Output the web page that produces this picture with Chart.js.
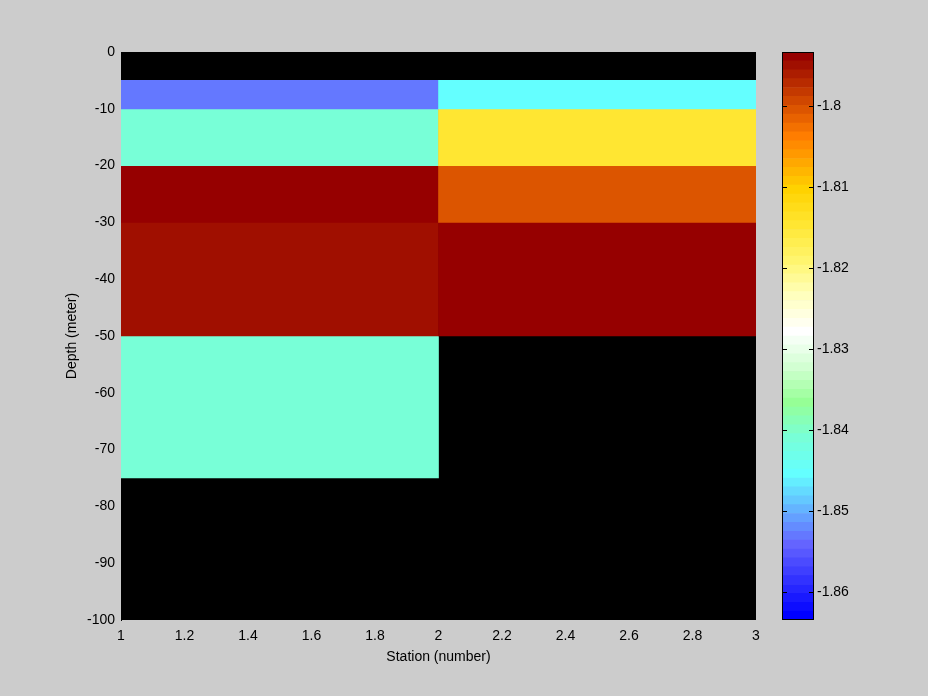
<!DOCTYPE html>
<html lang="en">
<head>
    <meta charset="UTF-8">
    <title>Depth section</title>
    <script src="https://cdn.jsdelivr.net/npm/chart.js"></script>
    <style>
        html, body {
            margin: 0;
            padding: 0;
            background-color: #cccccc;
            overflow: hidden;
        }
        #mainWrap {
            position: absolute;
            left: 0;
            top: 0;
        }
        #barWrap {
            position: absolute;
            left: 770px;
            top: 0;
        }
    </style>
</head>
<body>
    <div id="mainWrap"><canvas id="mainCanvas" width="780" height="696"></canvas></div>
    <div id="barWrap"><canvas id="barCanvas" width="158" height="696"></canvas></div>

    <script>
        // Station cells (pcolor style: 3 stations -> 2 columns of cells)
        const stationCells = ['1-2', '2-3'];
        // Depth layers (meter), top and bottom of each cell row
        const layerTop = [-5, -10, -20, -30, -50];
        const layerBottom = [-10, -20, -30, -50, -75];
        // Values per layer for each station column (null = no data, shows black)
        const station1Values = [-1.8531, -1.8408, -1.7933, -1.7949, -1.8415];
        const station2Values = [-1.8454, -1.8147, -1.8004, -1.7933, null];

        // Colour limits and colorbar ticks
        const colorMin = -1.8635;
        const colorMax = -1.7933;
        const colorTicks = [-1.86, -1.85, -1.84, -1.83, -1.82, -1.81, -1.80];

        // Colormap anchor points (index out of 64, rgb)
        const cmapSize = 64;
        const cmapAnchors = [
            [0, [0, 0, 255]],
            [8, [100, 100, 255]],
            [10, [100, 140, 255]],
            [13, [100, 200, 255]],
            [16, [100, 255, 255]],
            [20, [120, 255, 215]],
            [24, [150, 255, 150]],
            [28, [210, 255, 210]],
            [32, [255, 255, 255]],
            [36, [255, 255, 190]],
            [40, [255, 245, 110]],
            [44, [255, 230, 50]],
            [48, [255, 210, 0]],
            [54, [255, 125, 0]],
            [57, [220, 85, 0]],
            [62, [160, 15, 0]],
            [63, [150, 0, 0]]
        ];

        const tickFont = { family: 'Liberation Sans', size: 14 };

        // Build the 64 colour table from the anchors
        function buildColormap() {
            const table = [];
            for (let i = 0; i < cmapSize; i++) {
                let k = 0;
                while (k < cmapAnchors.length - 2 && cmapAnchors[k + 1][0] < i) k++;
                const [i0, c0] = cmapAnchors[k];
                const [i1, c1] = cmapAnchors[k + 1];
                const t = i1 === i0 ? 0 : Math.min(1, Math.max(0, (i - i0) / (i1 - i0)));
                const c = c0.map((v, j) => Math.round(v + (c1[j] - v) * t));
                table.push(`rgb(${c[0]}, ${c[1]}, ${c[2]})`);
            }
            return table;
        }
        const colormap = buildColormap();

        function colorFor(value) {
            if (value === null) return 'rgba(0,0,0,0)';
            let idx = Math.floor((value - colorMin) / (colorMax - colorMin) * cmapSize);
            idx = Math.max(0, Math.min(cmapSize - 1, idx));
            return colormap[idx];
        }

        // One dataset per depth layer, floating bars spanning the layer
        const layerDatasets = layerTop.map((top, i) => {
            const vals = [station1Values[i], station2Values[i]];
            return {
                data: vals.map(v => v === null ? null : [layerBottom[i], top]),
                backgroundColor: vals.map(colorFor),
                borderWidth: 0,
                grouped: false,
                barPercentage: 1,
                categoryPercentage: 1,
                xAxisID: 'x',
                yAxisID: 'y'
            };
        });

        // Black axes background (empty cells)
        const axesBackground = {
            id: 'axesBackground',
            beforeDatasetsDraw(chart) {
                const { ctx, chartArea } = chart;
                ctx.save();
                ctx.fillStyle = '#000';
                ctx.fillRect(chartArea.left, chartArea.top, chartArea.right - chartArea.left, chartArea.bottom - chartArea.top);
                ctx.restore();
            }
        };

        new Chart(document.getElementById('mainCanvas'), {
            type: 'bar',
            data: { labels: stationCells, datasets: layerDatasets },
            plugins: [axesBackground],
            options: {
                responsive: false,
                animation: false,
                devicePixelRatio: 1,
                layout: { padding: { left: 0, top: 52, right: 24, bottom: 0 } },
                plugins: { legend: { display: false }, tooltip: { enabled: false } },
                scales: {
                    x: { type: 'category', display: false, offset: true },
                    xs: {
                        type: 'linear',
                        position: 'bottom',
                        min: 1,
                        max: 3,
                        offset: false,
                        grid: { display: false, drawTicks: false, offset: false },
                        border: { display: false },
                        ticks: {
                            stepSize: 0.2,
                            padding: 8,
                            color: '#000',
                            font: tickFont,
                            maxRotation: 0,
                            callback: v => String(Math.round(v * 10) / 10)
                        },
                        title: {
                            display: true,
                            text: 'Station (number)',
                            color: '#000',
                            font: tickFont,
                            padding: { top: 0, bottom: 30 }
                        },
                        afterFit(scale) { scale.height = 76; }
                    },
                    y: {
                        type: 'linear',
                        position: 'left',
                        min: -100,
                        max: 0,
                        grid: { display: false, drawTicks: false },
                        border: { display: true, color: '#000', width: 1 },
                        ticks: {
                            stepSize: 10,
                            padding: 6,
                            color: '#000',
                            font: tickFont
                        },
                        title: {
                            display: true,
                            text: 'Depth (meter)',
                            color: '#000',
                            font: tickFont,
                            padding: { top: 64, bottom: 0 }
                        },
                        afterFit(scale) { scale.width = 121; }
                    }
                }
            }
        });

        // Colorbar: one floating bar per colormap step
        const step = (colorMax - colorMin) / cmapSize;
        const bandDatasets = colormap.map((c, i) => ({
            data: [[colorMin + i * step, colorMin + (i + 1) * step]],
            backgroundColor: c,
            borderWidth: 0,
            grouped: false,
            barPercentage: 1,
            categoryPercentage: 1
        }));

        // Frame and inward ticks of the colorbar
        const barFrame = {
            id: 'barFrame',
            afterDraw(chart) {
                const { ctx, chartArea } = chart;
                const yScale = chart.scales.y;
                ctx.save();
                ctx.strokeStyle = '#000';
                ctx.lineWidth = 1;
                ctx.strokeRect(chartArea.left + 0.5, chartArea.top + 0.5,
                    chartArea.right - chartArea.left - 1, chartArea.bottom - chartArea.top - 1);
                ctx.beginPath();
                colorTicks.forEach(v => {
                    const py = Math.round(yScale.getPixelForValue(v)) + 0.5;
                    ctx.moveTo(chartArea.left, py);
                    ctx.lineTo(chartArea.left + 5, py);
                    ctx.moveTo(chartArea.right - 5, py);
                    ctx.lineTo(chartArea.right, py);
                });
                ctx.stroke();
                ctx.restore();
            }
        };

        new Chart(document.getElementById('barCanvas'), {
            type: 'bar',
            data: { labels: ['c'], datasets: bandDatasets },
            plugins: [barFrame],
            options: {
                responsive: false,
                animation: false,
                devicePixelRatio: 1,
                layout: { padding: { left: 12, top: 52, right: 0, bottom: 76 } },
                plugins: { legend: { display: false }, tooltip: { enabled: false } },
                scales: {
                    x: { type: 'category', display: false, offset: true },
                    y: {
                        type: 'linear',
                        position: 'right',
                        min: colorMin,
                        max: colorMax,
                        grid: { display: false, drawTicks: false },
                        border: { display: false },
                        afterBuildTicks(scale) {
                            scale.ticks = colorTicks.map(v => ({ value: v }));
                        },
                        ticks: {
                            padding: 3,
                            color: '#000',
                            font: tickFont,
                            callback: v => String(Math.round(v * 100) / 100)
                        },
                        afterFit(scale) { scale.width = 114; }
                    }
                }
            }
        });
    </script>
</body>
</html>
